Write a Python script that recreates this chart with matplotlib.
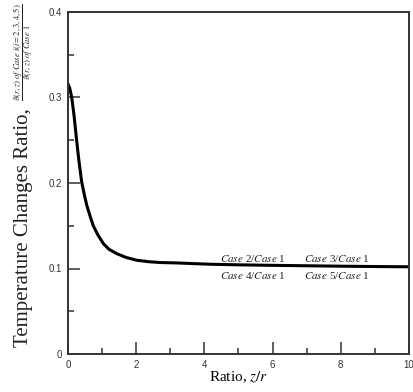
import matplotlib
matplotlib.use("Agg")
import matplotlib.pyplot as plt
from matplotlib.ticker import MultipleLocator, FuncFormatter

# curve
ratio_zr = [0, 0.05, 0.11, 0.18, 0.25, 0.32, 0.40, 0.48, 0.55, 0.65, 0.74, 0.88,
            1.04, 1.2, 1.43, 1.7, 2.01, 2.35, 2.70, 3.2, 3.7, 4.16, 5, 6, 7, 8, 9, 10]
temp_ratio = [0.316, 0.311, 0.300, 0.278, 0.251, 0.226, 0.2015, 0.186, 0.174, 0.161,
              0.150, 0.139, 0.129, 0.1225, 0.1174, 0.113, 0.1097, 0.108, 0.107, 0.1065,
              0.1057, 0.1050, 0.1043, 0.1037, 0.1032, 0.1027, 0.1023, 0.1020]

case_labels = [r"$\mathit{Case}$ 2/$\mathit{Case}$ 1", r"$\mathit{Case}$ 3/$\mathit{Case}$ 1",
               r"$\mathit{Case}$ 4/$\mathit{Case}$ 1", r"$\mathit{Case}$ 5/$\mathit{Case}$ 1"]
case_x = [4.46, 6.92, 4.46, 6.92]
case_y = [0.108, 0.108, 0.0872, 0.0872]

plt.rcParams['mathtext.fontset'] = 'stix'
serif = ['Liberation Serif', 'DejaVu Serif']
sans = ['Liberation Sans', 'DejaVu Sans']

fig = plt.figure(figsize=(4.13, 3.92), dpi=100)
ax = fig.add_axes([68 / 413, 38 / 392, 341 / 413, 342 / 392])

ax.plot(ratio_zr, temp_ratio, color='black', lw=2.2, solid_capstyle='round')

for lab, x, y in zip(case_labels, case_x, case_y):
    ax.text(x, y, lab, fontsize=8, family=serif, color='#222222', ha='left', va='baseline')

ax.set_xlim(0, 10)
ax.set_ylim(0, 0.4)
ax.xaxis.set_major_locator(MultipleLocator(2))
ax.xaxis.set_minor_locator(MultipleLocator(1))
ax.yaxis.set_major_locator(MultipleLocator(0.1))
ax.yaxis.set_minor_locator(MultipleLocator(0.05))
ax.xaxis.set_major_formatter(FuncFormatter(lambda v, p: f"{v:g}"))
ax.yaxis.set_major_formatter(FuncFormatter(lambda v, p: f"{v:g}"))

ax.tick_params(which='both', direction='in', color='#333333', width=1.1)
ax.tick_params(which='major', length=8.5, labelsize=7, pad=4, labelcolor='#333333')
ax.tick_params(which='minor', length=4.5)
for lbl in ax.get_xticklabels() + ax.get_yticklabels():
    lbl.set_family(sans)
for s in ax.spines.values():
    s.set_linewidth(1.4)
    s.set_color('#333333')

ax.set_xlabel(r"Ratio, $z/r$", fontsize=11, family=serif, labelpad=0)

fig.text(24 / 413, 1 - 228 / 392, "Temperature Changes Ratio,", rotation=90,
         fontsize=15, family=serif, ha='center', va='center', color='#222222')
fig.text(23 / 413, 1 - 52 / 392,
         r"$\dfrac{\vartheta(r,z)\ of\ Case\ i(i=2,3,4,5)}{\vartheta(r,z)\ of\ Case\ 1}$",
         rotation=90, fontsize=6.1, ha='center', va='center', color='#222222')

fig.savefig("out.png", dpi=100)
